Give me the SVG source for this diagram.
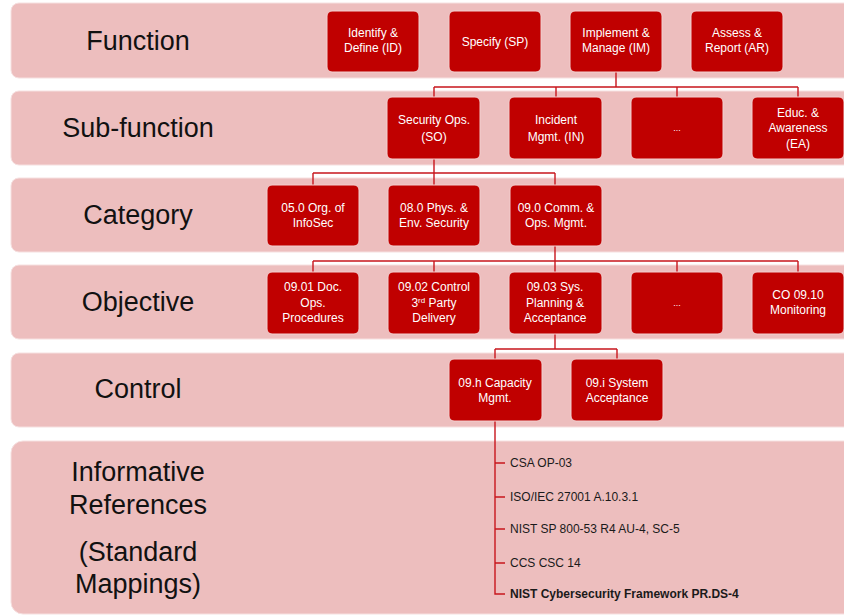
<svg xmlns="http://www.w3.org/2000/svg" width="844" height="615" viewBox="0 0 844 615">
  <style>
    .band { fill: #EDBEBE; stroke: #F6E0E0; stroke-width: 1; }
    .lvl { font-family: "Liberation Sans", Arial, sans-serif; font-size: 27px; fill: #111; text-anchor: middle; }
    .box { fill: #C00000; stroke: #F3CFCF; stroke-width: 1; }
    .bt { font-family: "Liberation Sans", Arial, sans-serif; font-size: 12px; fill: #fff; text-anchor: middle; }
    .dots { font-family: "Liberation Sans", Arial, sans-serif; font-size: 9px; fill: #fff; text-anchor: middle; }
    .ref { font-family: "Liberation Sans", Arial, sans-serif; font-size: 12px; fill: #1a1a1a; }
    .conn { fill: none; stroke: #C8161D; stroke-width: 1.4; }
  </style>

  <!-- level bands -->
  <g id="bands">
    <rect class="band" x="11" y="3" width="850" height="75" rx="8"/>
    <rect class="band" x="11" y="91" width="850" height="74" rx="8"/>
    <rect class="band" x="11" y="178" width="850" height="74" rx="8"/>
    <rect class="band" x="11" y="265" width="850" height="74" rx="8"/>
    <rect class="band" x="11" y="353" width="850" height="74" rx="8"/>
    <rect class="band" x="11" y="441" width="850" height="173" rx="12"/>
  </g>

  <!-- level labels -->
  <g id="labels">
    <text class="lvl" x="138" y="50">Function</text>
    <text class="lvl" x="138" y="137">Sub-function</text>
    <text class="lvl" x="138" y="224">Category</text>
    <text class="lvl" x="138" y="311">Objective</text>
    <text class="lvl" x="138" y="398">Control</text>
    <text class="lvl" x="138" y="481">Informative</text>
    <text class="lvl" x="138" y="514">References</text>
    <text class="lvl" x="138" y="561">(Standard</text>
    <text class="lvl" x="138" y="593">Mappings)</text>
  </g>

  <!-- connectors -->
  <g id="connectors">
    <path class="conn" d="M616 72 V87 M434 87 H798 M434 87 V97 M556 87 V97 M677 87 V97 M798 87 V97"/>
    <path class="conn" d="M434 159 V173 M313 173 H555 M313 173 V185 M434 173 V185 M555 173 V185"/>
    <path class="conn" d="M555 246 V261 M313 261 H798 M313 261 V272 M434 261 V272 M555 261 V272 M677 261 V272 M798 261 V272"/>
    <path class="conn" d="M555 334 V349 M495 349 H617 M495 349 V359 M617 349 V359"/>
    <path class="conn" d="M495 421 V594 H505 M495 463 H505 M495 497 H505 M495 529 H505 M495 563 H505"/>
  </g>

  <!-- function row -->
  <g id="fn-id">
    <rect class="box" x="327" y="11" width="92" height="61" rx="5"/>
    <text class="bt" x="373" y="37">Identify &amp;</text>
    <text class="bt" x="373" y="52">Define (ID)</text>
  </g>
  <g id="fn-sp">
    <rect class="box" x="449" y="11" width="92" height="61" rx="5"/>
    <text class="bt" x="495" y="46">Specify (SP)</text>
  </g>
  <g id="fn-im">
    <rect class="box" x="570" y="11" width="92" height="61" rx="5"/>
    <text class="bt" x="616" y="37">Implement &amp;</text>
    <text class="bt" x="616" y="52">Manage (IM)</text>
  </g>
  <g id="fn-ar">
    <rect class="box" x="691" y="11" width="92" height="61" rx="5"/>
    <text class="bt" x="737" y="37">Assess &amp;</text>
    <text class="bt" x="737" y="52">Report (AR)</text>
  </g>

  <!-- sub-function row -->
  <g id="sf-so">
    <rect class="box" x="387" y="97" width="93" height="62" rx="5"/>
    <text class="bt" x="434" y="124">Security Ops.</text>
    <text class="bt" x="434" y="141">(SO)</text>
  </g>
  <g id="sf-in">
    <rect class="box" x="509" y="97" width="93" height="62" rx="5"/>
    <text class="bt" x="556" y="124">Incident</text>
    <text class="bt" x="556" y="141">Mgmt. (IN)</text>
  </g>
  <g id="sf-more">
    <rect class="box" x="631" y="97" width="92" height="62" rx="5"/>
    <text class="dots" x="677" y="131">...</text>
  </g>
  <g id="sf-ea">
    <rect class="box" x="752" y="97" width="92" height="62" rx="5"/>
    <text class="bt" x="798" y="117">Educ. &amp;</text>
    <text class="bt" x="798" y="132">Awareness</text>
    <text class="bt" x="798" y="148">(EA)</text>
  </g>

  <!-- category row -->
  <g id="cat-05">
    <rect class="box" x="267" y="185" width="92" height="61" rx="5"/>
    <text class="bt" x="313" y="212">05.0 Org. of</text>
    <text class="bt" x="313" y="227">InfoSec</text>
  </g>
  <g id="cat-08">
    <rect class="box" x="388" y="185" width="92" height="61" rx="5"/>
    <text class="bt" x="434" y="212">08.0 Phys. &amp;</text>
    <text class="bt" x="434" y="227">Env. Security</text>
  </g>
  <g id="cat-09">
    <rect class="box" x="510" y="185" width="92" height="61" rx="5"/>
    <text class="bt" x="556" y="212">09.0 Comm. &amp;</text>
    <text class="bt" x="556" y="227">Ops. Mgmt.</text>
  </g>

  <!-- objective row -->
  <g id="obj-0901">
    <rect class="box" x="267" y="272" width="92" height="62" rx="5"/>
    <text class="bt" x="313" y="291">09.01 Doc.</text>
    <text class="bt" x="313" y="307">Ops.</text>
    <text class="bt" x="313" y="322">Procedures</text>
  </g>
  <g id="obj-0902">
    <rect class="box" x="388" y="272" width="92" height="62" rx="5"/>
    <text class="bt" x="434" y="291">09.02 Control</text>
    <text class="bt" x="434" y="307">3<tspan font-size="8" dy="-4">rd</tspan><tspan dy="4"> Party</tspan></text>
    <text class="bt" x="434" y="322">Delivery</text>
  </g>
  <g id="obj-0903">
    <rect class="box" x="509" y="272" width="93" height="62" rx="5"/>
    <text class="bt" x="555" y="291">09.03 Sys.</text>
    <text class="bt" x="555" y="307">Planning &amp;</text>
    <text class="bt" x="555" y="322">Acceptance</text>
  </g>
  <g id="obj-more">
    <rect class="box" x="631" y="272" width="92" height="62" rx="5"/>
    <text class="dots" x="677" y="306">...</text>
  </g>
  <g id="obj-0910">
    <rect class="box" x="752" y="272" width="92" height="62" rx="5"/>
    <text class="bt" x="798" y="299">CO 09.10</text>
    <text class="bt" x="798" y="314">Monitoring</text>
  </g>

  <!-- control row -->
  <g id="ctl-09h">
    <rect class="box" x="449" y="359" width="93" height="62" rx="5"/>
    <text class="bt" x="495" y="387">09.h Capacity</text>
    <text class="bt" x="495" y="402">Mgmt.</text>
  </g>
  <g id="ctl-09i">
    <rect class="box" x="571" y="359" width="92" height="62" rx="5"/>
    <text class="bt" x="617" y="387">09.i System</text>
    <text class="bt" x="617" y="402">Acceptance</text>
  </g>

  <!-- informative references -->
  <g id="refs">
    <text class="ref" x="510" y="467">CSA OP-03</text>
    <text class="ref" x="510" y="501">ISO/IEC 27001 A.10.3.1</text>
    <text class="ref" x="510" y="533">NIST SP 800-53 R4 AU-4, SC-5</text>
    <text class="ref" x="510" y="567">CCS CSC 14</text>
    <text class="ref" x="510" y="598" font-weight="bold">NIST Cybersecurity Framework PR.DS-4</text>
  </g>
</svg>
